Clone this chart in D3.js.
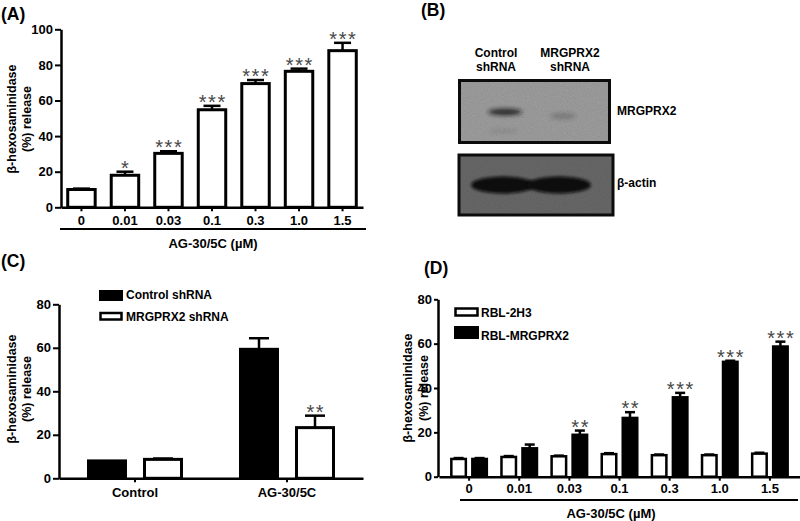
<!DOCTYPE html>
<html><head><meta charset="utf-8">
<script src="https://cdn.jsdelivr.net/npm/d3@7"></script>
<style>
body{margin:0;background:#fff;}
svg{display:block;font-family:"Liberation Sans",Arial,sans-serif;font-weight:bold;}
</style></head><body>
<svg id="c" width="800" height="521"></svg>
<script>
// ---------- DATA ----------
const concLabels = ["0","0.01","0.03","0.1","0.3","1.0","1.5"];
// Panel A
const aMeans = [10, 18, 30.3, 54.8, 69.5, 76.4, 88];
const aSem   = [0.5, 2, 1.2, 2.2, 2, 1.5, 4.4];
const aSig   = ["", "*", "***", "***", "***", "***", "***"];
const aTicks = [0, 20, 40, 60, 80, 100];
// Panel B (western blot)
const blotLanes = ["Control shRNA", "MRGPRX2 shRNA"];
const blotRows  = ["MRGPRX2", "β-actin"];
const blotMrgprx2Intensity = [0.85, 0.22];
const blotActinIntensity   = [1, 1];
// Panel C
const cCategories = ["Control", "AG-30/5C"];
const cSeries = ["Control shRNA", "MRGPRX2 shRNA"];
const cControlShRNA    = [8, 59.3];
const cControlShRNASem = [0, 5.1];
const cMrgprx2ShRNA    = [8.7, 23.3];
const cMrgprx2ShRNASem = [0.4, 5.5];
const cSig   = ["", "**"];
const cTicks = [0, 20, 40, 60, 80];
// Panel D
const dSeries = ["RBL-2H3", "RBL-MRGPRX2"];
const dRbl2h3       = [8, 8.9, 9.2, 10.2, 9.7, 9.7, 10.4];
const dRbl2h3Sem    = [0.4, 0.4, 0.3, 0.4, 0.3, 0.3, 0.4];
const dRblMrgprx2    = [8, 12.8, 18.9, 26.5, 35.8, 51.8, 58.7];
const dRblMrgprx2Sem = [0.4, 1.7, 1.9, 2.6, 2.0, 0.5, 2.2];
const dSig   = ["", "", "**", "**", "***", "***", "***"];
const dTicks = [0, 20, 40, 60, 80];

// ---------- HELPERS ----------
const svg = d3.select("#c");
const FONT = "'Liberation Sans', Arial, sans-serif";
const defs = svg.append("defs");

function styleAxis(g, domainW) {
  g.attr("font-family", FONT).attr("font-size", 13).attr("font-weight", "bold");
  g.select(".domain").attr("stroke", "#000").attr("stroke-width", domainW || 2.5);
  g.selectAll(".tick line").attr("stroke", "#000").attr("stroke-width", 2);
  g.selectAll(".tick text").attr("fill", "#000");
}
function yTitle(cx1, cx2, cy) {
  svg.append("text").attr("transform", `translate(${cx1},${cy}) rotate(-90)`)
    .attr("text-anchor", "middle").attr("dy", "0.35em").attr("font-size", 12.5).text("β-hexosaminidase");
  svg.append("text").attr("transform", `translate(${cx2},${cy}) rotate(-90)`)
    .attr("text-anchor", "middle").attr("dy", "0.35em").attr("font-size", 12.5).text("(%) release");
}
function panelLabel(t, x, y) {
  svg.append("text").attr("x", x).attr("y", y).attr("font-size", 17.5).text(t);
}
function stars(g, txt, x, capY) {
  if (!txt) return;
  g.append("text").attr("x", x + 0.8).attr("y", capY + 3).attr("text-anchor", "middle")
    .attr("font-size", 20).attr("font-weight", "normal").attr("letter-spacing", 1.6)
    .attr("fill", "#474747").text(txt);
}
function errBar(g, x, y1, y2, half, w) {
  g.append("line").attr("x1", x).attr("x2", x).attr("y1", y1).attr("y2", y2)
    .attr("stroke", "#000").attr("stroke-width", w);
  g.append("line").attr("x1", x - half).attr("x2", x + half).attr("y1", y2).attr("y2", y2)
    .attr("stroke", "#000").attr("stroke-width", w);
}

// ---------- PANEL A ----------
{
  const g = svg.append("g");
  const y = d3.scaleLinear().domain([0, 100]).range([207.3, 29.3]);
  const x = d3.scaleBand().domain(concLabels).range([61, 363]).paddingInner(0.3).paddingOuter(0.12);
  const bw = x.bandwidth();
  concLabels.forEach((c, i) => {
    const v = aMeans[i], cx = x(c) + bw / 2;
    errBar(g, cx, y(v), y(v + aSem[i]), 8.5, 2.5);
    g.append("rect").attr("x", x(c) + 1.5).attr("width", bw - 3)
      .attr("y", y(v)).attr("height", y(0) - y(v))
      .attr("fill", "#fff").attr("stroke", "#000").attr("stroke-width", 3);
    stars(g, aSig[i], cx, y(v + aSem[i]));
  });
  const ya = g.append("g").attr("transform", "translate(61,0)")
    .call(d3.axisLeft(y).tickValues(aTicks).tickSize(6).tickPadding(2).tickSizeOuter(0));
  styleAxis(ya);
  const xa = g.append("g").attr("transform", `translate(0,${y(0)})`)
    .call(d3.axisBottom(x).tickSize(4).tickPadding(4).tickSizeOuter(0));
  styleAxis(xa);
  g.append("line").attr("x1", 60).attr("x2", 366).attr("y1", 229).attr("y2", 229)
    .attr("stroke", "#000").attr("stroke-width", 2);
  g.append("text").attr("x", 213).attr("y", 248).attr("text-anchor", "middle")
    .attr("font-size", 13).text("AG-30/5C (µM)");
  yTitle(12, 27, 119);
  panelLabel("(A)", 1, 20);
}

// ---------- PANEL B (blot) ----------
{
  const g = svg.append("g");
  const grain = defs.append("filter").attr("id", "grain").attr("x", 0).attr("y", 0).attr("width", "100%").attr("height", "100%");
  grain.append("feTurbulence").attr("type", "fractalNoise").attr("baseFrequency", 0.8).attr("numOctaves", 2).attr("seed", 4);
  grain.append("feColorMatrix").attr("type", "matrix")
    .attr("values", "0.33 0.33 0.33 0 0  0.33 0.33 0.33 0 0  0.33 0.33 0.33 0 0  0 0 0 0 0.2");
  const blur = defs.append("filter").attr("id", "bblur").attr("x", "-50%").attr("y", "-100%").attr("width", "200%").attr("height", "300%");
  blur.append("feGaussianBlur").attr("stdDeviation", 2.2);
  const blur2 = defs.append("filter").attr("id", "bblur2").attr("x", "-50%").attr("y", "-100%").attr("width", "200%").attr("height", "300%");
  blur2.append("feGaussianBlur").attr("stdDeviation", 1.4);

  const lane = d3.scalePoint().domain(blotLanes).range([496, 570]);
  blotLanes.forEach(l => {
    const parts = l.split(" ");
    g.append("text").attr("x", lane(l)).attr("y", 57).attr("text-anchor", "middle").attr("font-size", 12).text(parts[0]);
    g.append("text").attr("x", lane(l)).attr("y", 71).attr("text-anchor", "middle").attr("font-size", 12).text(parts[1]);
  });
  // top blot
  g.append("rect").attr("x", 459.5).attr("y", 80.5).attr("width", 150).attr("height", 62).attr("fill", "#8e8e8e");
  g.append("rect").attr("x", 459.5).attr("y", 80.5).attr("width", 150).attr("height", 62).attr("fill", "#000").attr("filter", "url(#grain)");
  blotMrgprx2Intensity.forEach((v, i) => {
    const cx = lane(blotLanes[i]) + (i === 0 ? 9 : -7);
    g.append("ellipse").attr("cx", cx).attr("cy", 112 + i * 4).attr("rx", 17 - i * 4).attr("ry", 3.2)
      .attr("fill", "#151515").attr("opacity", v).attr("filter", "url(#bblur)");
  });
  g.append("ellipse").attr("cx", lane(blotLanes[0]) + 8).attr("cy", 131).attr("rx", 15).attr("ry", 1.8)
    .attr("fill", "#444").attr("opacity", 0.2).attr("filter", "url(#bblur)");
  g.append("rect").attr("x", 459.5).attr("y", 80.5).attr("width", 150).attr("height", 62)
    .attr("fill", "none").attr("stroke", "#0c0c0c").attr("stroke-width", 3);
  // bottom blot
  g.append("rect").attr("x", 459).attr("y", 155).attr("width", 154).attr("height", 60).attr("fill", "#585858");
  g.append("rect").attr("x", 459).attr("y", 155).attr("width", 154).attr("height", 60).attr("fill", "#000").attr("filter", "url(#grain)").attr("opacity", 0.6);
  blotActinIntensity.forEach((v, i) => {
    const cx = lane(blotLanes[i]) + (i === 0 ? 7 : -11);
    g.append("ellipse").attr("cx", cx).attr("cy", 185).attr("rx", 32).attr("ry", 8.5)
      .attr("fill", "#0a0a0a").attr("opacity", v).attr("filter", "url(#bblur2)");
  });
  g.append("rect").attr("x", 459).attr("y", 155).attr("width", 154).attr("height", 60)
    .attr("fill", "none").attr("stroke", "#0c0c0c").attr("stroke-width", 3);
  g.append("text").attr("x", 617).attr("y", 114.5).attr("font-size", 12).text(blotRows[0]);
  g.append("text").attr("x", 617).attr("y", 186.5).attr("font-size", 12).text(blotRows[1]);
  panelLabel("(B)", 421, 16);
}

// ---------- PANEL C ----------
{
  const g = svg.append("g");
  const y = d3.scaleLinear().domain([0, 80]).range([478.3, 304.3]);
  const x = d3.scaleBand().domain(cCategories).range([59, 363]);
  const inner = d3.scaleBand().domain(cSeries).range([-48, 48]).paddingInner(0.286);
  const bw = inner.bandwidth();
  const sets = [
    { s: cSeries[0], vals: cControlShRNA, sem: cControlShRNASem, fill: "#000" },
    { s: cSeries[1], vals: cMrgprx2ShRNA, sem: cMrgprx2ShRNASem, fill: "#fff" }
  ];
  cCategories.forEach((c, i) => {
    const gc = x(c) + x.bandwidth() / 2;
    sets.forEach(st => {
      const v = st.vals[i], bx = gc + inner(st.s), cx = bx + bw / 2;
      if (st.sem[i] > 0) errBar(g, cx, y(v), y(v + st.sem[i]), 10, 2.5);
      g.append("rect").attr("x", bx + 1.5).attr("width", bw - 3)
        .attr("y", y(v)).attr("height", y(0) - y(v))
        .attr("fill", st.fill).attr("stroke", "#000").attr("stroke-width", 3);
    });
    const cxw = gc + inner(cSeries[1]) + bw / 2;
    stars(g, cSig[i], cxw, y(cMrgprx2ShRNA[i] + cMrgprx2ShRNASem[i]));
  });
  const ya = g.append("g").attr("transform", "translate(59,0)")
    .call(d3.axisLeft(y).tickValues(cTicks).tickSize(6).tickPadding(2).tickSizeOuter(0));
  styleAxis(ya);
  const xa = g.append("g").attr("transform", `translate(0,${y(0)})`)
    .call(d3.axisBottom(x).tickSize(4).tickPadding(5).tickSizeOuter(0));
  styleAxis(xa);
  const lg = g.append("g");
  lg.append("rect").attr("x", 100).attr("y", 291).attr("width", 22).attr("height", 9).attr("fill", "#000").attr("stroke", "#000").attr("stroke-width", 2);
  lg.append("text").attr("x", 126).attr("y", 298.5).attr("font-size", 12).text(cSeries[0]);
  lg.append("rect").attr("x", 100.5).attr("y", 313).attr("width", 21).attr("height", 6.5).attr("fill", "#fff").attr("stroke", "#000").attr("stroke-width", 2.5);
  lg.append("text").attr("x", 126).attr("y", 321).attr("font-size", 12).text(cSeries[1]);
  yTitle(12, 27, 389);
  panelLabel("(C)", 1, 267);
}

// ---------- PANEL D ----------
{
  const g = svg.append("g");
  const y = d3.scaleLinear().domain([0, 80]).range([476.7, 299.3]);
  const x = d3.scaleBand().domain(concLabels).range([439, 800]).paddingInner(0).paddingOuter(0.1);
  const inner = d3.scaleBand().domain(dSeries).range([-19, 19]).paddingInner(0.19);
  const bw = inner.bandwidth();
  const sets = [
    { s: dSeries[0], vals: dRbl2h3, sem: dRbl2h3Sem, fill: "#fff" },
    { s: dSeries[1], vals: dRblMrgprx2, sem: dRblMrgprx2Sem, fill: "#000" }
  ];
  concLabels.forEach((c, i) => {
    const gc = x(c) + x.bandwidth() / 2;
    sets.forEach(st => {
      const v = st.vals[i], bx = gc + inner(st.s), cx = bx + bw / 2;
      errBar(g, cx, y(v), y(v + st.sem[i]), 5, 2.5);
      g.append("rect").attr("x", bx + 1.25).attr("width", bw - 2.5)
        .attr("y", y(v)).attr("height", y(0) - y(v))
        .attr("fill", st.fill).attr("stroke", "#000").attr("stroke-width", 2.5);
    });
    const cxb = gc + inner(dSeries[1]) + bw / 2;
    stars(g, dSig[i], cxb, y(dRblMrgprx2[i] + dRblMrgprx2Sem[i]));
  });
  const ya = g.append("g").attr("transform", "translate(438,0)")
    .call(d3.axisLeft(y).tickValues(dTicks).tickSize(4).tickPadding(2).tickSizeOuter(0));
  styleAxis(ya);
  const xa = g.append("g").attr("transform", `translate(0,${y(0)})`)
    .call(d3.axisBottom(x).tickSize(4).tickPadding(3).tickSizeOuter(0));
  styleAxis(xa);
  g.append("line").attr("x1", 460).attr("x2", 798).attr("y1", 500).attr("y2", 500)
    .attr("stroke", "#000").attr("stroke-width", 2);
  g.append("text").attr("x", 611).attr("y", 518).attr("text-anchor", "middle")
    .attr("font-size", 13).text("AG-30/5C (µM)");
  const lg = g.append("g");
  lg.append("rect").attr("x", 455.5).attr("y", 308.5).attr("width", 22).attr("height", 7).attr("fill", "#fff").attr("stroke", "#000").attr("stroke-width", 2.5);
  lg.append("text").attr("x", 481).attr("y", 316.5).attr("font-size", 12).text(dSeries[0]);
  lg.append("rect").attr("x", 455).attr("y", 327).attr("width", 23).attr("height", 11).attr("fill", "#000").attr("stroke", "#000").attr("stroke-width", 2);
  lg.append("text").attr("x", 481).attr("y", 340).attr("font-size", 12).text(dSeries[1]);
  yTitle(408, 424, 388);
  panelLabel("(D)", 424, 274);
}
</script>
</body></html>
